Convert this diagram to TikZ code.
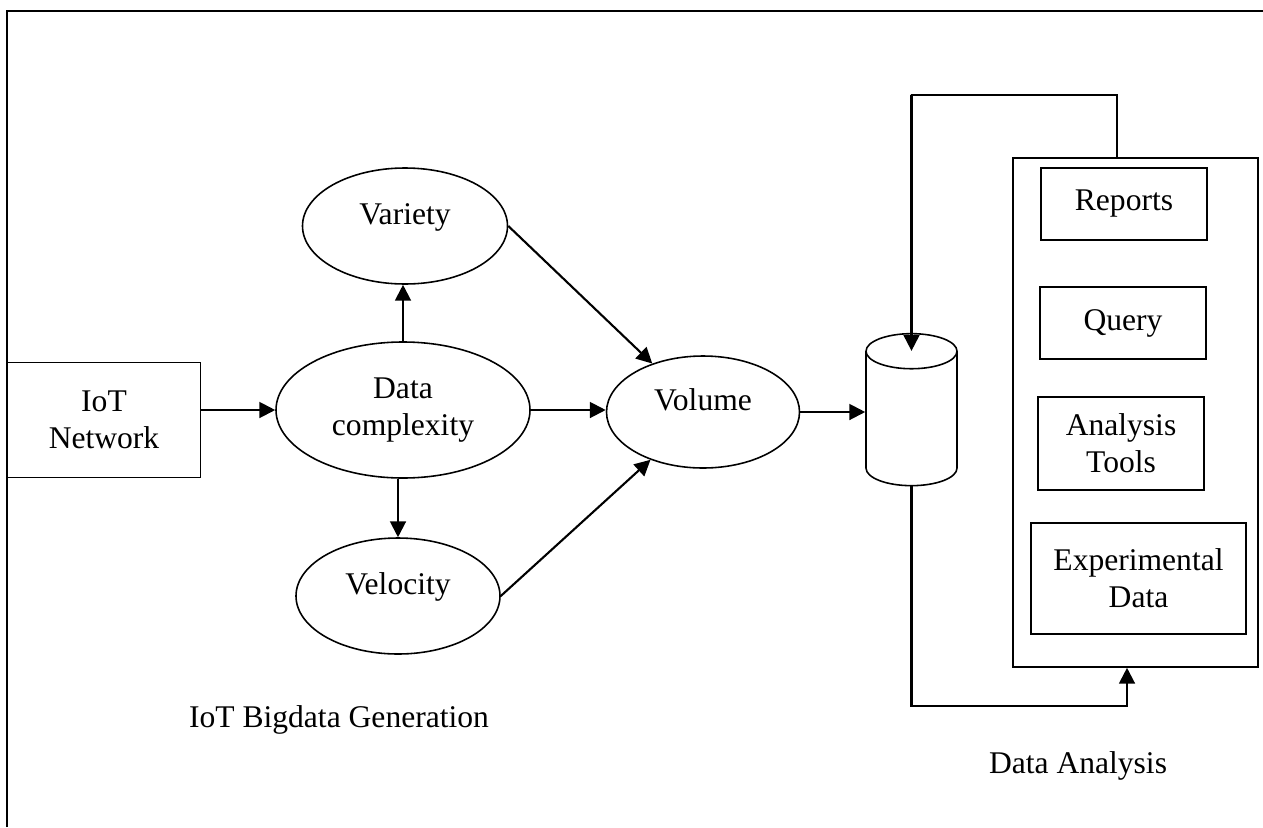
\documentclass[tikz,border=0pt]{standalone}
\usepackage{fontspec}
\setmainfont{Liberation Serif}
\usetikzlibrary{arrows.meta,positioning,shapes.geometric}

\begin{document}
\begin{tikzpicture}[
  x=0.38pt, y=-0.38pt,
  font=\fontsize{12}{14}\selectfont,
  box/.style={draw,line width=0.6pt,align=center,inner sep=0pt},
  oval/.style={draw,ellipse,line width=0.6pt,align=center,inner sep=0pt},
  uptext/.style={text height=8pt,text depth=9pt},
  arr/.style={-{Triangle[length=6pt,width=6pt]},line width=0.8pt}
]
% one unit = one pixel of the page
\def\px{0.38pt}
\useasboundingbox (0,0) rectangle (1263,827);

% outer frame, cut off by the page on the right and at the bottom
\draw[line width=1pt] (7,827) -- (7,11) -- (1263,11);

% generation side
\node[box,minimum width={193*\px},minimum height={115*\px}] (iot) at (104,420) {IoT\\Network};
\node[oval,minimum width={254*\px},minimum height={136*\px}] (cplx) at (403,410) {Data\\complexity};
\node[oval,uptext,minimum width={205*\px},minimum height={116*\px}] (variety) at (405,226) {Variety};
\node[oval,uptext,minimum width={204*\px},minimum height={116*\px}] (velocity) at (398,596) {Velocity};
\node[oval,uptext,minimum width={193*\px},minimum height={112*\px}] (volume) at (703,412) {Volume};

% storage
\node[draw,cylinder,shape border rotate=90,aspect=2,line width=0.6pt,
      minimum width={91*\px},minimum height={152*\px}] (store) at (911.5,424) {};

% analysis side
\node[box,minimum width={245*\px},minimum height={509*\px}] (panel) at (1135.5,412.5) {};
\node[box,minimum width={166*\px},minimum height={72*\px}] (reports) at (1124,204) {Reports};
\node[box,minimum width={166*\px},minimum height={72*\px}] (query) at (1123,323) {Query};
\node[box,minimum width={166*\px},minimum height={93*\px}] (tools) at (1121,443.5) {Analysis\\Tools};
\node[box,minimum width={215*\px},minimum height={111*\px}] (expdata) at (1138.5,578.5) {Experimental\\Data};

% captions
\node (genlabel) at (339,720) {IoT Bigdata Generation};
\node (analabel) at (1078,766) {Data Analysis};

% flow
\draw[arr] (iot.east |- cplx.west) -- (cplx.west);
\draw[arr] (cplx.north) -- (cplx.north |- variety.south);
\draw[arr] (velocity.north |- cplx.south) -- (velocity.north);
\draw[arr] (cplx.east) -- (cplx.east -| volume.west);
\draw[arr] (variety.east) -- (volume);
\draw[arr] (velocity.east) -- (volume);
\draw[arr] (volume.east) -- (volume.east -| store.west);

% feedback loop
\coordinate (fbtop) at (911,95);
\coordinate (fbbot) at (1127,706);
\draw[arr] ([xshift={-18.5*\px}]panel.north) |- (fbtop) -| ([yshift={-18*\px}]store.top);
\draw[arr] (store.bottom) |- (fbbot) -- (fbbot |- panel.south);
\end{tikzpicture}
\end{document}
